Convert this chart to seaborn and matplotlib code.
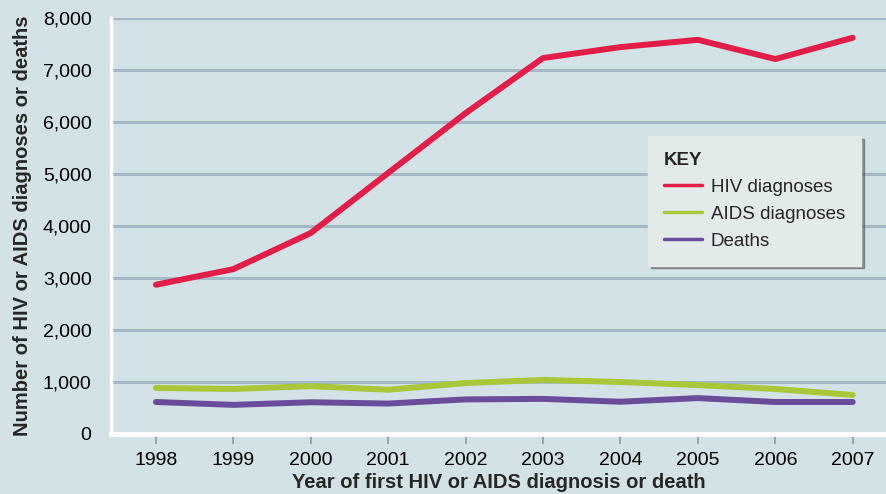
import pandas as pd
import seaborn as sns
import matplotlib.pyplot as plt

years = [1998, 1999, 2000, 2001, 2002, 2003, 2004, 2005, 2006, 2007]
hiv = [2870, 3170, 3865, 5020, 6170, 7230, 7440, 7580, 7210, 7620]
aids = [885, 865, 920, 850, 980, 1040, 1000, 940, 865, 750]
deaths = [615, 560, 610, 585, 665, 675, 620, 690, 615, 615]
series = ["HIV diagnoses", "AIDS diagnoses", "Deaths"]
colors = ["#e31c48", "#a8c83a", "#6b4c9a"]

df = pd.DataFrame({
    "year": years * 3,
    "value": hiv + aids + deaths,
    "series": [series[0]] * 10 + [series[1]] * 10 + [series[2]] * 10,
})

sns.set_style("white")
plt.rcParams["font.family"] = ["Liberation Sans", "DejaVu Sans"]

bg = "#d3e2e6"
fig = plt.figure(figsize=(8.86, 4.94), dpi=100, facecolor=bg)
ax = fig.add_axes([0.1253, 0.1215, 0.8747, 0.8421])
ax.set_facecolor(bg)

sns.lineplot(
    data=df,
    x="year",
    y="value",
    hue="series",
    hue_order=series,
    palette=dict(zip(series, colors)),
    linewidth=4.3,
    ax=ax,
)

ax.set_xlim(1997.42, 2007.43)
ax.set_ylim(0, 8000)
ax.set_xticks(years)
ax.set_yticks(range(0, 8001, 1000))
ax.set_yticklabels([f"{v:,}" for v in range(0, 8001, 1000)])
ax.yaxis.grid(True, color="#a3b9c8", linewidth=2.2)
ax.set_axisbelow(True)

for s in ["top", "right"]:
    ax.spines[s].set_visible(False)
ax.spines["left"].set_color("white")
ax.spines["left"].set_linewidth(2.5)
ax.spines["bottom"].set_color("white")
ax.spines["bottom"].set_linewidth(3.5)

ax.tick_params(axis="y", length=6, width=2.2, color="#7b9db5", pad=8,
               labelsize=14, labelcolor="black")
ax.tick_params(axis="x", length=7, width=1.2, color="#8a9aa6", pad=6,
               labelsize=14, labelcolor="black", bottom=True)

ax.set_xlabel("Year of first HIV or AIDS diagnosis or death",
              fontsize=14.5, fontweight="bold", labelpad=3)
ax.set_ylabel("Number of HIV or AIDS diagnoses or deaths",
              fontsize=14.5, fontweight="bold", labelpad=8)

handles, labels = ax.get_legend_handles_labels()
leg = ax.legend(
    handles, labels,
    title="KEY",
    loc="upper left",
    bbox_to_anchor=(0.693, 0.716),
    frameon=True,
    fancybox=False,
    shadow=True,
    facecolor="#e3eaea",
    edgecolor="#e3eaea",
    framealpha=1,
    fontsize=13.5,
    handlelength=2.0,
    handletextpad=0.5,
    borderpad=0.85,
    borderaxespad=0,
    labelspacing=0.52,
    alignment="left",
)
leg.get_title().set_fontweight("bold")
leg.get_title().set_fontsize(13.5)
for line in leg.get_lines():
    line.set_linewidth(2.5)

plt.savefig("out.png", dpi=100, facecolor=bg)
